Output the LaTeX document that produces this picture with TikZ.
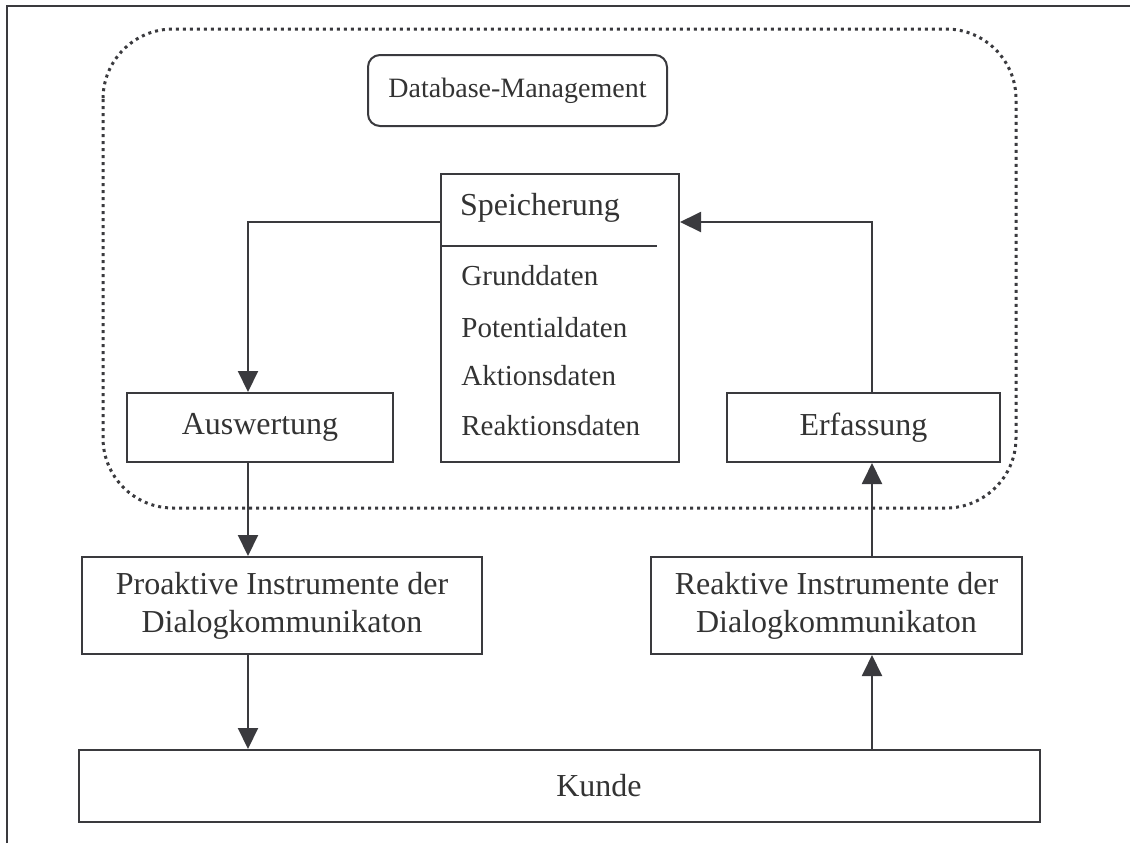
\documentclass[tikz,border=0pt]{standalone}
\usepackage{fontspec}
\setmainfont{Liberation Serif}
\usetikzlibrary{arrows.meta}
\definecolor{ink}{RGB}{58,58,62}
\definecolor{txt}{RGB}{51,51,51}
\begin{document}
\begin{tikzpicture}[x=0.5pt,y=-0.5pt,
  box/.style={draw=ink, line width=1pt, inner sep=0pt, text=txt,
    font=\fontsize{16}{19}\selectfont, align=center},
  plain/.style={text=txt, inner sep=0pt, font=\fontsize{16}{19}\selectfont},
  itemtext/.style={text=txt, inner sep=0pt, font=\fontsize{14.5}{17}\selectfont},
  conn/.style={draw=ink, line width=1pt},
  arr/.style={conn, -{Triangle[length=10.5pt,width=10pt]}},
  dotframe/.style={draw=ink, line width=1.5pt, dash pattern=on 1.5pt off 2pt,
    rounded corners=35pt}]
\useasboundingbox (0,0) rectangle (1130,843);
% page frame
\draw[ink, line width=1pt] (7,843) -- (7,6) -- (1130,6);
% database management area
\draw[dotframe] (103,29) rectangle (1016,508);
\node[box, rounded corners=6pt, minimum width=149.5pt, minimum height=35.5pt,
  font=\fontsize{14}{17}\selectfont] (dbm) at (517.5,90.5) {Database-Management};
% storage box with its data categories
\node[box, minimum width=119pt, minimum height=144pt] (spei) at (560,318) {};
\draw[conn] (spei.west |- 0,246) -- (657,246);
\node[plain, anchor=base] (speit) at (540,215) {Speicherung};
\node[itemtext, anchor=base west] (d1) at (461,285) {Grunddaten};
\node[itemtext, anchor=base west] (d2) at (461,337) {Potentialdaten};
\node[itemtext, anchor=base west] (d3) at (461,385) {Aktionsdaten};
\node[itemtext, anchor=base west] (d4) at (461,435) {Reaktionsdaten};
% process boxes
\node[box, minimum width=133pt, minimum height=34.5pt] (ausw) at (260,427.5) {Auswertung};
\node[box, minimum width=136.5pt, minimum height=34.5pt] (erf) at (863.5,427.5) {Erfassung};
\node[box, minimum width=200pt, minimum height=48.5pt] (pro) at (282,605.5)
  {Proaktive Instrumente der\\Dialogkommunikaton};
\node[box, minimum width=185.5pt, minimum height=48.5pt] (rea) at (836.5,605.5)
  {Reaktive Instrumente der\\Dialogkommunikaton};
\node[box, minimum width=480.5pt, minimum height=36pt] (kunde) at (559.5,786) {};
\node[plain] (kundet) at (599,786) {Kunde};
% connector guides
\coordinate (xl) at (248,0);
\coordinate (xr) at (872,0);
\coordinate (yl) at (0,222);
% connectors
\draw[arr] (spei.west |- yl) -| (ausw.north -| xl);
\draw[arr] (erf.north -| xr) |- (spei.east |- yl);
\draw[arr] (ausw.south -| xl) -- (pro.north -| xl);
\draw[arr] (pro.south -| xl) -- (kunde.north -| xl);
\draw[arr] (kunde.north -| xr) -- (rea.south -| xr);
\draw[arr] (rea.north -| xr) -- (erf.south -| xr);
\end{tikzpicture}
\end{document}
